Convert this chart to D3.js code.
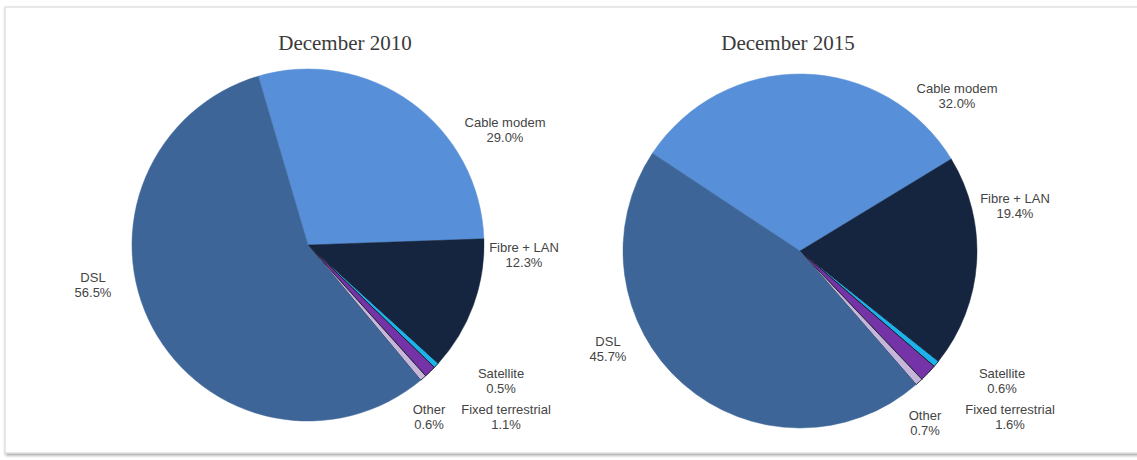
<!DOCTYPE html>
<html>
<head>
<meta charset="utf-8">
<script src="https://cdn.jsdelivr.net/npm/d3@7"></script>
<style>
  html, body { margin: 0; padding: 0; background: #ffffff; }
  svg { display: block; }
</style>
</head>
<body>
<svg id="chart" width="1137" height="460"></svg>
<script>
// Broadband connections by technology, share of total (%)
const categories = ["Cable modem", "Fibre + LAN", "Satellite", "Fixed terrestrial", "Other", "DSL"];
const titles = ["December 2010", "December 2015"];
const values2010 = [29.0, 12.3, 0.5, 1.1, 0.6, 56.5];
const values2015 = [32.0, 19.4, 0.6, 1.6, 0.7, 45.7];

const colors = ["#5790d8", "#15253f", "#1cb2ea", "#7433a6", "#c6b6da", "#3d6598"];
const outlined = [false, false, true, true, true, false];

const svg = d3.select("#chart");

// drop shadow for the frame
const defs = svg.append("defs");
const f = defs.append("filter").attr("id", "shadow")
  .attr("x", "-5%").attr("y", "-5%").attr("width", "110%").attr("height", "110%");
f.append("feDropShadow").attr("dx", 1).attr("dy", 2).attr("stdDeviation", 1.6)
  .attr("flood-color", "#000").attr("flood-opacity", 0.35);

svg.append("rect")
  .attr("x", 5).attr("y", 7).attr("width", 1150).attr("height", 446)
  .attr("fill", "#ffffff").attr("stroke", "#d4d4d4").attr("stroke-width", 1)
  .attr("filter", "url(#shadow)");

const panels = [
  {
    title: titles[0], values: values2010, cx: 308, cy: 245, r: 176, start: -16.4,
    titleX: 345, titleY: 50,
    labels: [[505, 122], [524, 247], [501, 373], [506, 409], [429, 409], [93, 277]]
  },
  {
    title: titles[1], values: values2015, cx: 800, cy: 251, r: 177, start: -56.5,
    titleX: 788, titleY: 50,
    labels: [[957, 88], [1015, 198], [1002, 373], [1010, 409], [925, 415], [608, 341]]
  }
];

panels.forEach(p => {
  const data = categories.map((c, i) => ({ name: c, value: p.values[i], i }));
  const a0 = p.start * Math.PI / 180;
  const pie = d3.pie().sort(null).value(d => d.value)
    .startAngle(a0).endAngle(a0 + 2 * Math.PI);
  const arc = d3.arc().innerRadius(0).outerRadius(p.r);

  const g = svg.append("g").attr("transform", `translate(${p.cx},${p.cy})`);
  g.selectAll("path").data(pie(data)).join("path")
    .attr("d", arc)
    .attr("fill", d => colors[d.data.i])
    .attr("stroke", d => outlined[d.data.i] ? "#1b1b2a" : colors[d.data.i])
    .attr("stroke-width", d => outlined[d.data.i] ? 0.9 : 0.5)
    .attr("stroke-linejoin", "round");

  svg.append("text")
    .attr("x", p.titleX).attr("y", p.titleY)
    .attr("text-anchor", "middle")
    .attr("font-family", "'Liberation Serif', serif")
    .attr("font-size", 21)
    .attr("fill", "#3a3a3a")
    .text(p.title);

  data.forEach((d, i) => {
    const [lx, ly] = p.labels[i];
    const t = svg.append("text")
      .attr("text-anchor", "middle")
      .attr("font-family", "'Liberation Sans', Arial, sans-serif")
      .attr("font-size", 13)
      .attr("fill", "#444444");
    t.append("tspan").attr("x", lx).attr("y", ly + 4.5).text(d.name);
    t.append("tspan").attr("x", lx).attr("y", ly + 20).text(d3.format(".1f")(d.value) + "%");
  });
});
</script>
</body>
</html>
